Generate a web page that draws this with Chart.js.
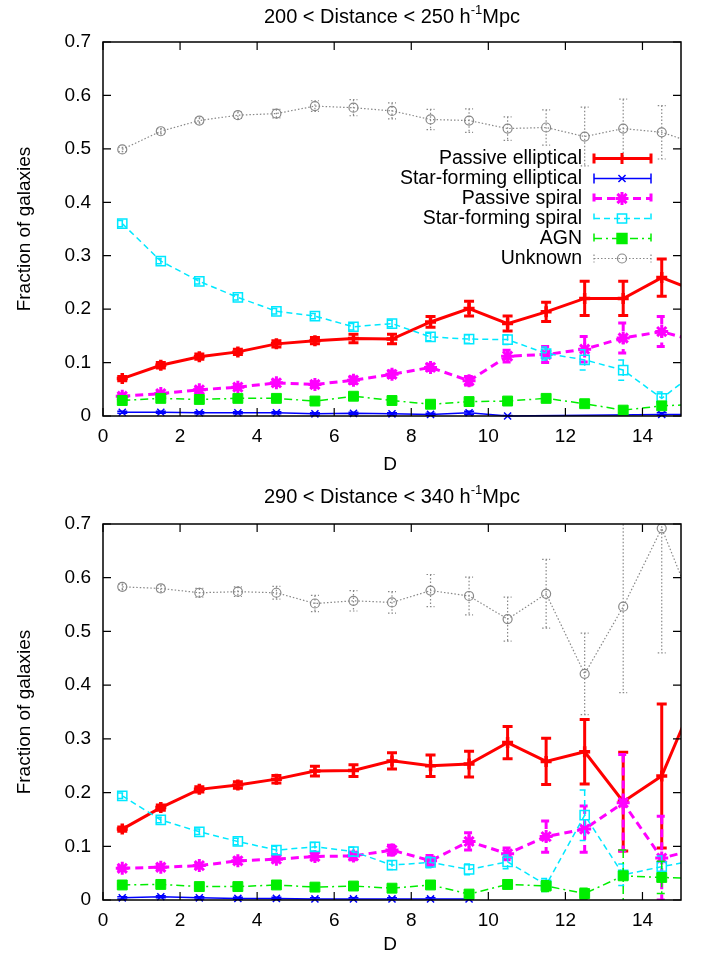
<!DOCTYPE html>
<html>
<head>
<meta charset="utf-8">
<script src="https://cdn.jsdelivr.net/npm/chart.js@4.4.1/dist/chart.umd.min.js"></script>
<style>
  body { margin: 0; background: #fff; }
  canvas { display: block; }
</style>
</head>
<body>
<canvas id="nearChart" width="706" height="480"></canvas>
<canvas id="farChart" width="706" height="480"></canvas>
<script>
// bin centres along D (last one sits past the axis end, line runs off the frame)
const distBins = [0.5, 1.5, 2.5, 3.5, 4.5, 5.5, 6.5, 7.5, 8.5, 9.5, 10.5, 11.5, 12.5, 13.5, 14.5, 15.5];
const seriesNames = ['Passive elliptical', 'Star-forming elliptical', 'Passive spiral', 'Star-forming spiral', 'AGN', 'Unknown'];
const nearTitle = ['200 < Distance < 250 h', '-1', 'Mpc'];
const farTitle = ['290 < Distance < 340 h', '-1', 'Mpc'];
const xTitle = 'D';
const yTitle = 'Fraction of galaxies';

// 200 < Distance < 250
const nearPassiveEll = [0.070, 0.095, 0.111, 0.120, 0.135, 0.141, 0.145, 0.144, 0.176, 0.201, 0.173, 0.195, 0.220, 0.220, 0.259, 0.231];
const nearPassiveEllErr = [0.004, 0.005, 0.005, 0.005, 0.006, 0.006, 0.008, 0.009, 0.010, 0.014, 0.014, 0.018, 0.032, 0.032, 0.035, 0.040];
const nearSfEll = [0.007, 0.007, 0.006, 0.006, 0.006, 0.004, 0.005, 0.004, 0.003, 0.006, 0.000, null, null, null, 0.003, 0.003];
const nearSfEllErr = [0.002, 0.002, 0.002, 0.002, 0.002, 0.002, 0.002, 0.002, 0.002, 0.003, 0.001, 0, 0, 0, 0.003, 0.003];
const nearPassiveSp = [0.037, 0.042, 0.049, 0.054, 0.062, 0.059, 0.067, 0.078, 0.091, 0.066, 0.112, 0.115, 0.125, 0.146, 0.158, 0.138];
const nearPassiveSpErr = [0.003, 0.003, 0.004, 0.004, 0.005, 0.005, 0.006, 0.006, 0.006, 0.008, 0.011, 0.015, 0.024, 0.028, 0.028, 0.030];
const nearSfSp = [0.360, 0.290, 0.252, 0.222, 0.196, 0.187, 0.167, 0.173, 0.148, 0.144, 0.143, 0.117, 0.105, 0.086, 0.033, 0.089];
const nearSfSpErr = [0.006, 0.005, 0.005, 0.005, 0.005, 0.005, 0.006, 0.006, 0.007, 0.008, 0.009, 0.012, 0.019, 0.019, 0.012, 0.020];
const nearAgn = [0.029, 0.033, 0.031, 0.033, 0.033, 0.028, 0.037, 0.029, 0.022, 0.027, 0.028, 0.033, 0.023, 0.011, 0.019, 0.022];
const nearAgnErr = [0.002, 0.002, 0.002, 0.002, 0.003, 0.003, 0.003, 0.003, 0.004, 0.005, 0.005, 0.006, 0.006, 0.005, 0.007, 0.008];
const nearUnknown = [0.499, 0.533, 0.553, 0.563, 0.566, 0.580, 0.577, 0.571, 0.555, 0.553, 0.538, 0.540, 0.523, 0.538, 0.531, 0.507];
const nearUnknownErr = [0.004, 0.005, 0.005, 0.006, 0.008, 0.010, 0.015, 0.015, 0.019, 0.022, 0.022, 0.033, 0.055, 0.055, 0.050, 0.060];

// 290 < Distance < 340
const farPassiveEll = [0.132, 0.172, 0.206, 0.214, 0.225, 0.240, 0.241, 0.259, 0.250, 0.253, 0.293, 0.258, 0.276, 0.183, 0.231, 0.400];
const farPassiveEllErr = [0.004, 0.005, 0.005, 0.006, 0.007, 0.009, 0.011, 0.015, 0.020, 0.024, 0.030, 0.043, 0.060, 0.092, 0.134, 0.150];
const farSfEll = [0.004, 0.006, 0.004, 0.003, 0.003, 0.002, 0.002, 0.002, 0.002, 0.002];
const farSfEllErr = [0.002, 0.002, 0.002, 0.002, 0.002, 0.002, 0.002, 0.002, 0.002, 0.002];
const farPassiveSp = [0.059, 0.061, 0.064, 0.073, 0.076, 0.081, 0.082, 0.093, 0.073, 0.109, 0.086, 0.118, 0.132, 0.181, 0.078, 0.096];
const farPassiveSpErr = [0.003, 0.004, 0.004, 0.005, 0.005, 0.006, 0.007, 0.009, 0.010, 0.016, 0.011, 0.029, 0.043, 0.090, 0.078, 0.080];
const farSfSp = [0.194, 0.149, 0.127, 0.109, 0.093, 0.099, 0.090, 0.065, 0.070, 0.057, 0.071, 0.028, 0.158, 0.047, 0.062, 0.076];
const farSfSpErr = [0.005, 0.005, 0.005, 0.006, 0.007, 0.008, 0.008, 0.008, 0.010, 0.010, 0.013, 0.012, 0.047, 0.020, 0.020, 0.020];
const farAgn = [0.028, 0.029, 0.025, 0.025, 0.028, 0.024, 0.026, 0.022, 0.028, 0.011, 0.029, 0.026, 0.012, 0.045, 0.042, 0.040];
const farAgnErr = [0.002, 0.003, 0.003, 0.003, 0.004, 0.004, 0.005, 0.005, 0.006, 0.005, 0.008, 0.010, 0.010, 0.048, 0.030, 0.030];
const farUnknown = [0.583, 0.580, 0.572, 0.574, 0.572, 0.552, 0.557, 0.554, 0.576, 0.566, 0.523, 0.570, 0.421, 0.546, 0.692, 0.514];
const farUnknownErr = [0.005, 0.006, 0.008, 0.009, 0.012, 0.015, 0.019, 0.020, 0.030, 0.035, 0.041, 0.064, 0.076, 0.160, 0.232, 0.200];

// gnuplot-ish line types, same order as seriesNames
const styles = [
    { color: '#ff0000', width: 3, dash: [], point: 'cross', radius: 5.5, pw: 3.5, fill: '#ff0000', cap: 5 },
    { color: '#0000ff', width: 1.5, dash: [], point: 'crossRot', radius: 5, pw: 1.5, fill: '#0000ff', cap: 5 },
    { color: '#ff00ff', width: 3, dash: [8, 5], point: 'star', radius: 6.5, pw: 3, fill: '#ff00ff', cap: 5 },
    { color: '#00e8ff', width: 1.5, dash: [6, 4], point: 'rect', radius: 6.5, pw: 1.5, fill: 'rgba(0,0,0,0)', cap: 5 },
    { color: '#00ee00', width: 1.5, dash: [8, 4, 2, 4], point: 'rect', radius: 7, pw: 1, fill: '#00ee00', cap: 5 },
    { color: '#888888', width: 1.2, dash: [1.5, 2], point: 'circle', radius: 4.5, pw: 1.2, fill: 'rgba(0,0,0,0)', cap: 4 }
];

const FONT = '"Liberation Sans", Arial, sans-serif';
Chart.defaults.font.family = FONT;
Chart.defaults.font.size = 19;
Chart.defaults.color = '#000';

function buildDatasets(values, errors) {
    return values.map((vals, s) => {
        const st = styles[s];
        return {
            label: seriesNames[s],
            data: distBins.map((x, i) => ({ x: x, y: vals[i] == null ? null : vals[i] })),
            errors: errors[s],
            capSize: st.cap,
            borderColor: st.color,
            borderWidth: st.width,
            borderDash: st.dash,
            pointStyle: st.point,
            pointRadius: st.radius,
            pointBorderWidth: st.pw,
            pointBorderColor: st.color,
            pointBackgroundColor: st.fill,
            fill: false,
            tension: 0,
            spanGaps: true,
            order: 10 - s,
            clip: { left: 0, top: 0, right: 0, bottom: 8 }
        };
    });
}

const errorBars = {
    id: 'errorBars',
    beforeDatasetDraw(chart, args) {
        const ds = chart.data.datasets[args.index];
        if (!ds.errors) return;
        const { ctx, chartArea: a, scales: { x, y } } = chart;
        ctx.save();
        ctx.beginPath();
        ctx.rect(a.left, a.top, a.right - a.left, a.bottom - a.top);
        ctx.clip();
        ctx.strokeStyle = ds.borderColor;
        ctx.lineWidth = ds.borderWidth;
        ctx.setLineDash(ds.borderDash || []);
        const c = ds.capSize;
        ds.data.forEach((p, i) => {
            const e = ds.errors[i];
            if (p.y == null || !e) return;
            const px = x.getPixelForValue(p.x);
            const t = y.getPixelForValue(p.y + e);
            const b = y.getPixelForValue(p.y - e);
            ctx.beginPath();
            ctx.moveTo(px, t); ctx.lineTo(px, b);
            ctx.moveTo(px - c, t); ctx.lineTo(px + c, t);
            ctx.moveTo(px - c, b); ctx.lineTo(px + c, b);
            ctx.stroke();
        });
        ctx.restore();
    }
};

function drawMarker(ctx, st, x, y) {
    ctx.save();
    ctx.setLineDash([]);
    ctx.strokeStyle = st.color;
    ctx.fillStyle = st.fill;
    Chart.helpers.drawPoint(ctx, { pointStyle: st.point, radius: st.radius, borderWidth: st.pw, rotation: 0 }, x, y);
    ctx.restore();
}

const gnuplotFrame = {
    id: 'gnuplotFrame',
    afterDatasetsDraw(chart, args, opts) {
        const { ctx, chartArea: a, scales: { x, y } } = chart;
        ctx.save();
        ctx.strokeStyle = '#000';
        ctx.lineWidth = 1.5;
        ctx.setLineDash([]);
        ctx.strokeRect(a.left, a.top, a.right - a.left, a.bottom - a.top);

        // inward ticks on all four sides
        ctx.lineWidth = 1.2;
        ctx.beginPath();
        x.ticks.forEach(t => {
            const px = x.getPixelForValue(t.value);
            ctx.moveTo(px, a.bottom); ctx.lineTo(px, a.bottom - 8);
            ctx.moveTo(px, a.top); ctx.lineTo(px, a.top + 8);
        });
        y.ticks.forEach(t => {
            const py = y.getPixelForValue(t.value);
            ctx.moveTo(a.left, py); ctx.lineTo(a.left + 8, py);
            ctx.moveTo(a.right, py); ctx.lineTo(a.right - 8, py);
        });
        ctx.stroke();

        // title with superscript
        const [main, sup, tail] = opts.title;
        ctx.fillStyle = '#000';
        ctx.textBaseline = 'middle';
        ctx.textAlign = 'left';
        ctx.font = '20px ' + FONT;
        const w1 = ctx.measureText(main).width;
        const w3 = ctx.measureText(tail).width;
        ctx.font = '13px ' + FONT;
        const w2 = ctx.measureText(sup).width;
        let tx = opts.titleX - (w1 + w2 + w3) / 2;
        ctx.font = '20px ' + FONT;
        ctx.fillText(main, tx, opts.titleY);
        tx += w1;
        ctx.font = '13px ' + FONT;
        ctx.fillText(sup, tx, opts.titleY - 7);
        tx += w2;
        ctx.font = '20px ' + FONT;
        ctx.fillText(tail, tx, opts.titleY);

        // axis titles
        ctx.font = '19px ' + FONT;
        ctx.textAlign = 'center';
        ctx.fillText(xTitle, (a.left + a.right) / 2 - 2, a.bottom + opts.xTitleGap);
        ctx.save();
        ctx.translate(25, (a.top + a.bottom) / 2);
        ctx.rotate(-Math.PI / 2);
        ctx.fillText(yTitle, 0, 0);
        ctx.restore();

        // key
        if (opts.legend) {
            chart.data.datasets.forEach((ds, s) => {
                const st = styles[s];
                const ry = 158.5 + s * 20;
                ctx.fillStyle = '#000';
                ctx.textAlign = 'right';
                ctx.font = '19.5px ' + FONT;
                ctx.fillText(ds.label, 582, ry);
                ctx.strokeStyle = st.color;
                ctx.lineWidth = st.width;
                ctx.setLineDash(st.dash);
                ctx.beginPath();
                ctx.moveTo(594, ry); ctx.lineTo(651, ry);
                ctx.moveTo(594, ry - st.cap); ctx.lineTo(594, ry + st.cap);
                ctx.moveTo(651, ry - st.cap); ctx.lineTo(651, ry + st.cap);
                ctx.stroke();
                drawMarker(ctx, st, 622, ry);
            });
        }
        ctx.restore();
    }
};

function makeChart(id, values, errors, frameOpts, padTop, xAxisHeight) {
    const ctx = document.getElementById(id).getContext('2d');
    return new Chart(ctx, {
        type: 'line',
        data: { datasets: buildDatasets(values, errors) },
        options: {
            responsive: false,
            animation: false,
            events: [],
            layout: { padding: { top: padTop, right: 25, left: 0, bottom: 0 } },
            scales: {
                x: {
                    type: 'linear',
                    min: 0,
                    max: 15,
                    ticks: { stepSize: 2, includeBounds: false, padding: 9, maxRotation: 0, color: '#000' },
                    grid: { display: false, drawTicks: false },
                    border: { display: false },
                    afterFit: scale => { scale.height = xAxisHeight; }
                },
                y: {
                    min: 0,
                    max: 0.7,
                    ticks: { stepSize: 0.1, padding: 12, color: '#000' },
                    grid: { display: false, drawTicks: false },
                    border: { display: false },
                    afterFit: scale => { scale.width = 103; }
                }
            },
            plugins: {
                legend: { display: false },
                title: { display: false },
                tooltip: { enabled: false },
                gnuplotFrame: frameOpts
            }
        },
        plugins: [errorBars, gnuplotFrame]
    });
}

makeChart('nearChart',
    [nearPassiveEll, nearSfEll, nearPassiveSp, nearSfSp, nearAgn, nearUnknown],
    [nearPassiveEllErr, nearSfEllErr, nearPassiveSpErr, nearSfSpErr, nearAgnErr, nearUnknownErr],
    { title: nearTitle, titleX: 392, titleY: 17, xTitleGap: 49, legend: true },
    42, 64);

makeChart('farChart',
    [farPassiveEll, farSfEll, farPassiveSp, farSfSp, farAgn, farUnknown],
    [farPassiveEllErr, farSfEllErr, farPassiveSpErr, farSfSpErr, farAgnErr, farUnknownErr],
    { title: farTitle, titleX: 392, titleY: 17, xTitleGap: 45, legend: false },
    44, 60);
</script>
</body>
</html>
